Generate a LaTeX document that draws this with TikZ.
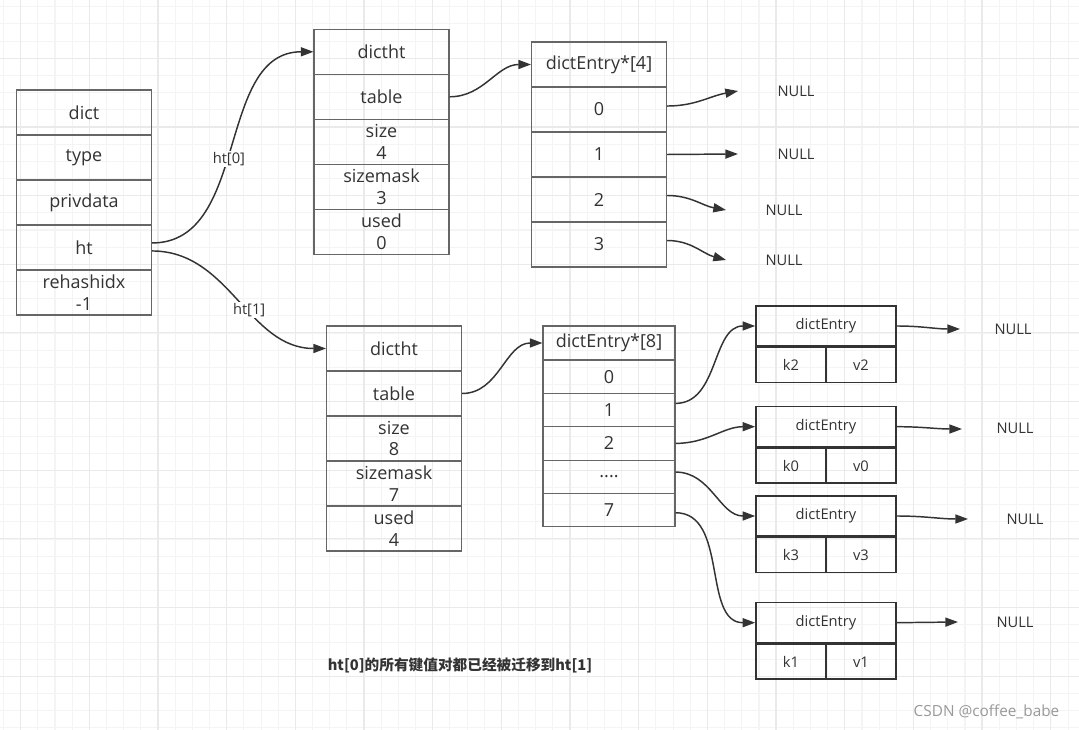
\documentclass[tikz,border=0pt]{standalone}
\usepackage{fontspec}
\setmainfont{Open Sans}
\newfontfamily\cjk{Noto Sans CJK SC}
\usetikzlibrary{arrows.meta,positioning}
\definecolor{ink}{HTML}{333333}
\definecolor{frame}{HTML}{666666}
\definecolor{gridminor}{HTML}{F4F4F4}
\definecolor{gridmajor}{HTML}{EAEAEA}

\begin{document}
\begin{tikzpicture}[x=0.75pt, y=-0.75pt, on grid, node distance=33.75pt,
  >={Triangle[length=9.5pt,width=6.8pt]},
  cell/.style={draw=frame, line width=0.8pt, text=ink, minimum width=101.25pt, minimum height=33.75pt, inner sep=0pt, align=center, font=\fontsize{13.5}{16}\selectfont},
  slot/.style={cell, minimum width=99pt, minimum height=25pt},
  entry/.style={draw=ink, line width=1.2pt, text=ink, minimum width=105pt, minimum height=30pt, inner sep=0pt, font=\fontsize{11}{13}\selectfont},
  kv/.style={entry, minimum width=52.5pt, minimum height=26.25pt},
  nul/.style={text=ink, font=\fontsize{11}{13}\selectfont},
  link/.style={->, color=ink, line width=1.1pt},
  lbl/.style={fill=white, text=ink, inner sep=1pt, font=\fontsize{11}{13}\selectfont}]
            \useasboundingbox[fill=white] (0,0) rectangle (1079,730);
            \foreach \i in {0,...,62} \draw[gridminor, line width=0.8pt] ({3.5+17.17*\i},0) -- ({3.5+17.17*\i},730);
            \foreach \i in {0,...,42} \draw[gridminor, line width=0.8pt] (0,{6.8+17.17*\i}) -- (1079,{6.8+17.17*\i});
            \foreach \i in {0,...,15} \draw[gridmajor, line width=0.9pt] ({20.7+68.66*\i},0) -- ({20.7+68.66*\i},730);
            \foreach \i in {0,...,10} \draw[gridmajor, line width=0.9pt] (0,{-10.4+68.66*\i}) -- (1079,{-10.4+68.66*\i});

            \node[cell] (dict) at (84,112.5) {dict};
            \node[cell, below of = dict] (type) {type};
            \node[cell, below of = type] (priv) {privdata};
            \node[cell, below of = priv] (ht) {ht};
            \node[cell, below of = ht] (rehash) {rehashidx\\-1};

            \node[cell] (t0) at (381.5,51.8) {dictht};
            \node[cell, below of = t0] (table0) {table};
            \node[cell, below of = table0] (size0) {size\\4};
            \node[cell, below of = size0] (mask0) {sizemask\\3};
            \node[cell, below of = mask0] (used0) {used\\0};

            \node[cell] (b4) at (599,64.5) {dictEntry*[4]};
            \node[cell, below of = b4] (s0) {0};
            \node[cell, below of = s0] (s1) {1};
            \node[cell, below of = s1] (s2) {2};
            \node[cell, below of = s2] (s3) {3};

            \node[cell] (t1) at (394,348.5) {dictht};
            \node[cell, below of = t1] (table1) {table};
            \node[cell, below of = table1] (size1) {size\\8};
            \node[cell, below of = size1] (mask1) {sizemask\\7};
            \node[cell, below of = mask1] (used1) {used\\4};

            \node[slot, minimum height=25.5pt] (b8) at (609,343) {dictEntry*[8]};
            \node[slot, node distance=25.3pt, below of = b8] (r0) {0};
            \node[slot, node distance=25pt, below of = r0] (r1) {1};
            \node[slot, node distance=25pt, below of = r1] (r2) {2};
            \node[slot, node distance=25pt, below of = r2] (rdots) {....};
            \node[slot, node distance=25pt, below of = rdots] (r7) {7};

            \node[entry] (e2) at (826,326) {dictEntry};
            \node[kv, anchor=north west] (k2) at (e2.south west) {k2};
            \node[kv, anchor=north east] (v2) at (e2.south east) {v2};
            \node[entry] (e0) at (826,426.7) {dictEntry};
            \node[kv, anchor=north west] (k0) at (e0.south west) {k0};
            \node[kv, anchor=north east] (v0) at (e0.south east) {v0};
            \node[entry] (e3) at (826,516) {dictEntry};
            \node[kv, anchor=north west] (k3) at (e3.south west) {k3};
            \node[kv, anchor=north east] (v3) at (e3.south east) {v3};
            \node[entry] (e1) at (826,622.7) {dictEntry};
            \node[kv, anchor=north west] (k1) at (e1.south west) {k1};
            \node[kv, anchor=north east] (v1) at (e1.south east) {v1};

            \node[nul] (n0) at (796,91) {NULL};
            \node[nul] (n1) at (796,154) {NULL};
            \node[nul] (n2) at (784,210) {NULL};
            \node[nul] (n3) at (784,260) {NULL};
            \node[nul] (m2) at (1013,329) {NULL};
            \node[nul] (m0) at (1015,428) {NULL};
            \node[nul] (m3) at (1025,519) {NULL};
            \node[nul] (m1) at (1015,622) {NULL};
            \coordinate (a0) at (738,91);
            \coordinate (a1) at (738,154);
            \coordinate (a2) at (726,210);
            \coordinate (a3) at (726,260);
            \coordinate (c2) at (960,329);
            \coordinate (c0) at (962,429);
            \coordinate (c3) at (968,519);
            \coordinate (c1) at (958,622);

            \node[font={\cjk\bfseries\fontsize{11}{13}\selectfont}, text=ink] (note) at (460,665) {ht[0]的所有键值对都已经被迁移到ht[1]};
            \node[anchor=east, text=black!40, font=\fontsize{11.5}{13}\selectfont] (mark) at (1064,712) {CSDN @coffee\_babe};

            \path[link] ([yshift=3.4pt]ht.east) edge[out=0, in=180] node[lbl, pos=.46] {ht[0]} (t0.west);
            \path[link] ([yshift=-2.6pt]ht.east) edge[out=0, in=180] node[lbl, pos=.57] {ht[1]} (t1.west);
            \path[link] (table0.east) edge[out=0, in=180] (b4.west);
            \path[link] (table1.east) edge[out=0, in=180] (b8.west);
            \path[link] ([yshift=2.6pt]s0.east) edge[out=0, in=190] (a0);
            \path[link] (s1.east) edge (a1);
            \path[link] ([yshift=3pt]s2.east) edge[out=0, in=170] (a2);
            \path[link] ([yshift=3pt]s3.east) edge[out=0, in=165] (a3);
            \path[link] ([yshift=5pt]r1.east) edge[out=0, in=180] (e2.west);
            \path[link] (r2.east) edge[out=0, in=180] (e0.west);
            \path[link] ([yshift=3.5pt]rdots.east) edge[out=0, in=180] (e3.west);
            \path[link] ([yshift=-2pt]r7.east) edge[out=0, in=180] (e1.west);
            \path[link] (e2.east) edge[out=0, in=180] (c2);
            \path[link] (e0.east) edge[out=0, in=180] (c0);
            \path[link] (e3.east) edge[out=0, in=180] (c3);
            \path[link] (e1.east) edge (c1);
        \end{tikzpicture}
\end{document}
